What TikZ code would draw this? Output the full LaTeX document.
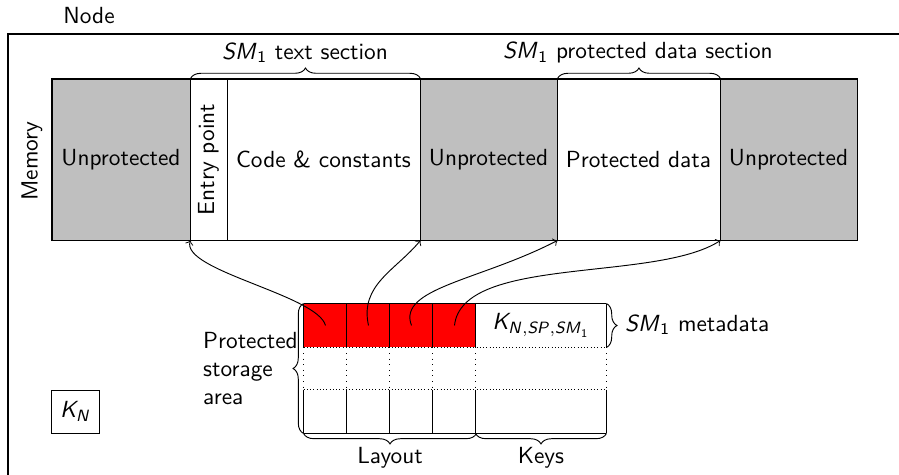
\documentclass[tikz,border=0pt]{standalone}
\usetikzlibrary{decorations.pathreplacing}
\renewcommand{\familydefault}{\sfdefault}
\DeclareMathAlphabet{\mathsfit}{OT1}{cmss}{m}{sl}
\DeclareMathAlphabet{\mathsfup}{OT1}{cmss}{m}{n}
\newcommand{\pxu}{0.429pt}
\begin{document}
\begin{tikzpicture}[x=\pxu,y=\pxu,font=\sffamily,
  seg/.style={draw, inner sep=0pt, minimum height=161*\pxu},
  cellbox/.style={inner sep=0pt, minimum width=43*\pxu, minimum height=43*\pxu},
  keybox/.style={inner sep=0pt, minimum width=130*\pxu, minimum height=43*\pxu},
  brc/.style={decorate, decoration={brace, amplitude=4.5pt}},
  brcm/.style={decorate, decoration={brace, mirror, amplitude=4.5pt}},
  link/.style={->}]
\clip (0,0) rectangle (899,-475);

% node frame (runs past the page on the right and bottom)
\draw[thick] (8,-34) rectangle (930,-510);
\node (nodelabel) at (89,-16) {Node};

% memory layout
\node[seg, fill=gray!50, minimum width=138*\pxu] (u1) at (121,-159.5) {Unprotected};
\node[seg, rotate=90, minimum width=161*\pxu, minimum height=37*\pxu] (ep) at (208.5,-159.5) {Entry point};
\node[seg, minimum width=193*\pxu] (cc) at (323.5,-159.5) {Code \& constants};
\node[seg, fill=gray!50, minimum width=137*\pxu] (u2) at (488.5,-159.5) {Unprotected};
\node[seg, minimum width=163*\pxu] (pd) at (638.5,-159.5) {Protected data};
\node[seg, fill=gray!50, minimum width=137*\pxu] (u3) at (788.5,-159.5) {Unprotected};
\draw[thick] (u1.north west) rectangle (u3.south east);
\node[rotate=90] (memlabel) at (32,-161) {Memory};

% section braces
\draw[brc] (u1.north east) -- (cc.north east);
\node (txtsec) at (305,-53) {$\mathsfit{SM}_{\mathsfup{1}}$ text section};
\draw[brc] (u2.north east) -- (pd.north east);
\node (datasec) at (638,-53) {$\mathsfit{SM}_{\mathsfup{1}}$ protected data section};

% protected storage area
\node[cellbox, fill=red] (c1) at (325.5,-325.5) {};
\node[cellbox, fill=red] (c2) at (368.5,-325.5) {};
\node[cellbox, fill=red] (c3) at (411.5,-325.5) {};
\node[cellbox, fill=red] (c4) at (454.5,-325.5) {};
\node[keybox] (k1) at (541,-325.5) {$\mathsfit{K}_{\mathsfit{N,SP,SM}_{\mathsfup{1}}}$};
\node[cellbox] (r1) at (325.5,-411.5) {};
\node[cellbox] (r2) at (368.5,-411.5) {};
\node[cellbox] (r3) at (411.5,-411.5) {};
\node[cellbox] (r4) at (454.5,-411.5) {};
\node[keybox] (k3) at (541,-411.5) {};

\draw (c1.north west) -- (k1.north east);
\foreach \n in {c1,c2,c3,c4,k1} \draw (\n.north west) -- (\n.south west);
\draw (k1.north east) -- (k1.south east);
\draw[densely dotted] (c1.south west) -- (k1.south east);
\draw[densely dotted] (r1.north west) -- (k3.north east);
\foreach \a/\b in {c1/r1,c2/r2,c3/r3,c4/r4,k1/k3} \draw[dotted] (\a.south west) -- (\b.north west);
\draw[dotted] (k1.south east) -- (k3.north east);
\foreach \n in {r1,r2,r3,r4,k3} \draw (\n.north west) -- (\n.south west);
\draw (k3.north east) -- (k3.south east);
\draw (r1.south west) -- (k3.south east);

% storage braces and labels
\draw[brc] (r1.south west) -- (c1.north west);
\node[align=left, anchor=west] (psa) at (195,-369) {Protected\\storage\\area};
\draw[brc] (k1.north east) -- (k1.south east);
\node[anchor=west] (meta) at (617,-325) {$\mathsfit{SM}_{\mathsfup{1}}$ metadata};
\draw[brcm] (r1.south west) -- (r4.south east);
\node (layout) at (390,-458) {Layout};
\draw[brcm] (k3.south west) -- (k3.south east);
\node (keys) at (541,-458) {Keys};

% node key
\node[draw, inner sep=0pt, minimum width=48*\pxu, minimum height=43*\pxu] (kn) at (75.5,-411.5) {$\mathsfit{K}_{\mathsfit{N}}$};

% layout entries pointing to section boundaries
\draw[link] (c1.center) .. controls +(-8,30.5) and +(-10,-30) .. (u1.south east);
\draw[link] (c2.center) .. controls +(-9,40.5) and +(-25,-30) .. (cc.south east);
\draw[link] (c3.center) .. controls +(-14.5,37.5) and +(-77,-40) .. (u2.south east);
\draw[link] (c4.center) .. controls +(7.5,70.5) and +(-65,-42) .. (pd.south east);
\end{tikzpicture}
\end{document}
